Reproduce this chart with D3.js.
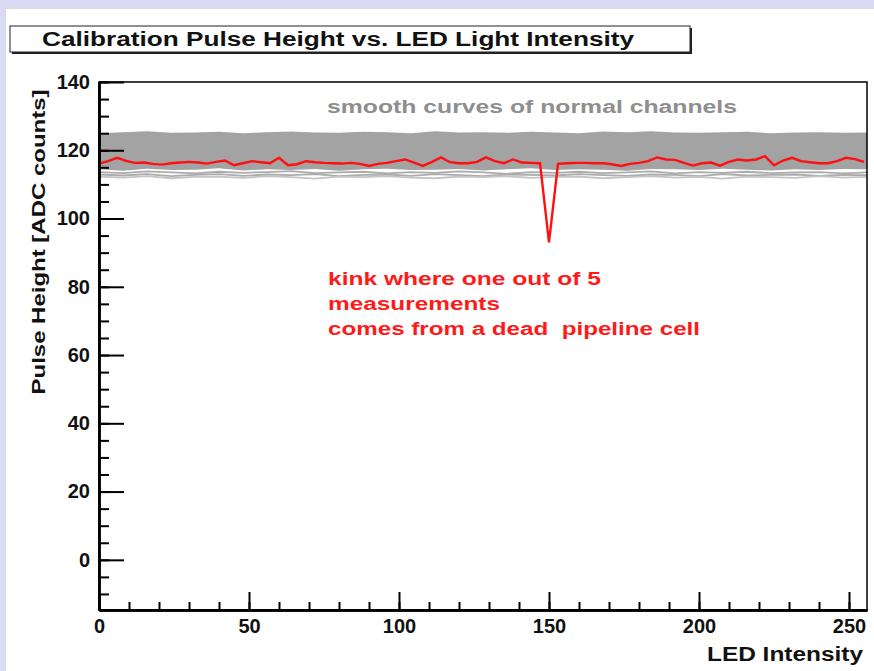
<!DOCTYPE html>
<html>
<head>
<meta charset="utf-8">
<script src="https://cdn.jsdelivr.net/npm/d3@7"></script>
<style>
  html, body { margin: 0; padding: 0; background: #dcdcf4; }
  svg { display: block; }
  text { font-family: "Liberation Sans", Arial, Helvetica, sans-serif; font-weight: bold; }
</style>
</head>
<body>
<div id="chart"></div>
<script>
// LED intensity steps of the calibration scan
var ledSteps = [0,3,6,9,12,15,18,21,24,27,30,33,36,39,42,45,48,51,54,57,60,63,66,69,72,75,78,81,84,87,
  90,93,96,99,102,105,108,111,114,117,120,123,126,129,132,135,138,141,144,147,150,153,156,159,162,165,
  168,171,174,177,180,183,186,189,192,195,198,201,204,207,210,213,216,219,222,225,228,231,234,237,240,
  243,246,249,252,255];

// the channel with the dead pipeline cell (red)
var badChannel = [116.1,116.8,117.8,116.9,116.3,116.4,116.0,115.8,116.2,116.4,116.6,116.4,116.1,116.6,
  117.0,115.6,116.2,116.8,116.5,116.2,117.8,115.6,115.9,116.8,116.5,116.3,116.2,116.1,116.3,116.0,
  115.4,116.0,116.3,116.8,117.3,116.4,115.4,116.6,117.9,116.5,116.2,116.2,116.6,117.9,116.8,116.2,
  117.3,116.4,116.3,116.2,93.0,116.0,116.2,116.3,116.3,116.2,116.2,115.9,115.4,116.0,116.3,116.8,
  117.9,117.3,117.2,116.3,115.5,116.2,116.4,115.5,116.6,117.3,117.0,117.3,118.3,115.6,117.0,117.8,
  116.8,116.5,116.2,116.2,116.8,117.8,117.4,116.6];

// normal channels: the dense band and a few lower curves
var graySteps = [0,8,16,24,32,40,48,56,64,72,80,88,96,104,112,120,128,136,144,152,160,168,176,184,
  192,200,208,216,224,232,240,248,256];
var bandHigh = [125.0,125.3,125.6,125.1,125.2,125.4,125.0,125.3,125.5,125.2,125.1,125.4,125.3,125.0,
  125.6,125.2,125.3,125.1,125.4,125.2,125.0,125.5,125.3,125.6,125.2,125.1,125.3,125.4,125.0,125.2,
  125.3,125.1,125.2];
var bandLow = [114.4,114.0,114.6,114.2,114.3,114.7,114.1,114.4,114.2,114.5,114.0,114.4,114.6,114.2,
  114.3,114.5,114.1,114.4,114.7,114.2,114.4,114.3,114.0,114.5,114.4,114.2,114.6,114.3,114.1,114.4,
  114.2,114.5,114.4];
var lowCurve1 = [113.6,113.3,113.8,113.5,113.2,113.7,113.4,113.6,113.9,113.3,113.5,113.7,113.2,113.6,
  113.4,113.8,113.5,113.1,113.6,113.4,113.7,113.3,113.5,113.8,113.2,113.6,113.4,113.7,113.3,113.5,
  113.6,113.2,113.5];
var lowCurve2 = [112.9,112.6,113.0,112.4,112.8,113.0,112.5,112.9,112.7,113.0,112.4,112.8,112.9,112.5,
  113.0,112.7,112.4,112.9,112.8,112.6,113.0,112.7,112.5,112.9,112.8,112.4,113.0,112.6,112.8,112.9,
  112.5,112.8,112.7];
var lowCurve3 = [112.3,112.0,112.4,111.8,112.2,112.3,111.9,112.4,112.1,111.7,112.3,112.1,112.4,112.0,
  111.8,112.3,112.1,112.4,111.9,112.2,112.3,111.8,112.1,112.4,112.0,112.2,111.7,112.3,112.1,111.9,
  112.4,112.0,112.2];

var xTicks = [0, 50, 100, 150, 200, 250];
var yTicks = [0, 20, 40, 60, 80, 100, 120, 140];

var W = 874, H = 671;
var svg = d3.select('#chart').append('svg').attr('width', W).attr('height', H);

// slide background + white canvas
svg.append('rect').attr('x', 0).attr('y', 0).attr('width', W).attr('height', H).attr('fill', '#dadaf3');
svg.append('rect').attr('x', 6).attr('y', 9).attr('width', W - 6).attr('height', H - 9).attr('fill', '#ffffff');

var x = d3.scaleLinear().domain([0, 256]).range([99, 867]);
var y = d3.scaleLinear().domain([-14.7, 140]).range([610, 82]);

svg.append('clipPath').attr('id', 'plotclip').append('rect')
  .attr('x', 99).attr('y', 82).attr('width', 768).attr('height', 528);

var plot = svg.append('g').attr('clip-path', 'url(#plotclip)');

var band = d3.area()
  .x(function(d, i) { return x(graySteps[i]); })
  .y0(function(d, i) { return y(bandLow[i]); })
  .y1(function(d, i) { return y(bandHigh[i]); });
plot.append('path').datum(bandHigh).attr('d', band).attr('fill', '#a3a3a3');

var grayLine = d3.line().x(function(d, i) { return x(graySteps[i]); }).y(function(d) { return y(d); });
[lowCurve1, lowCurve2, lowCurve3].forEach(function(c, k) {
  plot.append('path').datum(c).attr('d', grayLine)
    .attr('fill', 'none').attr('stroke', k == 2 ? '#c4c4c4' : '#acacac').attr('stroke-width', 1.8);
});

var redLine = d3.line().x(function(d, i) { return x(ledSteps[i]); }).y(function(d) { return y(d); });
plot.append('path').datum(badChannel).attr('d', redLine)
  .attr('fill', 'none').attr('stroke', '#ff1010').attr('stroke-width', 2.4);

// frame
svg.append('rect').attr('x', 99).attr('y', 82).attr('width', 768).attr('height', 528)
  .attr('fill', 'none').attr('stroke', '#000').attr('stroke-width', 1.5);

// axes, ticks drawn inward like ROOT
var yMinor = d3.axisLeft(y).tickValues(d3.range(-10, 141, 5)).tickSizeInner(-10).tickSizeOuter(0).tickFormat('');
var yMajor = d3.axisLeft(y).tickValues(yTicks).tickSizeInner(-25).tickSizeOuter(0).tickPadding(9);
var xMinor = d3.axisBottom(x).tickValues(d3.range(10, 256, 10)).tickSizeInner(-8).tickSizeOuter(0).tickFormat('');
var xMajor = d3.axisBottom(x).tickValues(xTicks).tickSizeInner(-18).tickSizeOuter(0).tickPadding(9);

function styleAxis(g) {
  g.select('.domain').attr('stroke', '#000').attr('stroke-width', 2.5);
  g.selectAll('.tick line').attr('stroke', '#000').attr('stroke-width', 2);
  g.selectAll('.tick text').attr('fill', '#111').style('font-size', '20px').style('font-weight', 'bold')
    .style('font-family', '"Liberation Sans", Arial, sans-serif');
}
svg.append('g').attr('transform', 'translate(99,0)').call(yMinor).call(styleAxis);
svg.append('g').attr('transform', 'translate(99,0)').call(yMajor).call(styleAxis);
svg.append('g').attr('transform', 'translate(0,610)').call(xMinor).call(styleAxis);
svg.append('g').attr('transform', 'translate(0,610)').call(xMajor).call(styleAxis);

// axis titles
svg.append('text').attr('transform', 'translate(45,242) rotate(-90)').attr('text-anchor', 'middle')
  .attr('textLength', 305).attr('lengthAdjust', 'spacingAndGlyphs')
  .style('font-size', '19px').attr('fill', '#111').text('Pulse Height [ADC counts]');
svg.append('text').attr('x', 863).attr('y', 661).attr('text-anchor', 'end')
  .attr('textLength', 156).attr('lengthAdjust', 'spacingAndGlyphs')
  .style('font-size', '20px').attr('fill', '#111').text('LED Intensity');

// title box
svg.append('rect').attr('x', 12).attr('y', 28).attr('width', 680).attr('height', 26).attr('fill', '#222');
svg.append('rect').attr('x', 10).attr('y', 26).attr('width', 680).attr('height', 26)
  .attr('fill', '#fff').attr('stroke', '#222').attr('stroke-width', 1);
svg.append('text').attr('x', 42).attr('y', 46).attr('textLength', 592).attr('lengthAdjust', 'spacingAndGlyphs')
  .style('font-size', '20px').attr('fill', '#111').text('Calibration Pulse Height vs. LED Light Intensity');

// annotations
svg.append('text').attr('x', 327).attr('y', 113).attr('textLength', 410).attr('lengthAdjust', 'spacingAndGlyphs')
  .style('font-size', '18px').attr('fill', '#8e8e8e').text('smooth curves of normal channels');

var notes = ['kink where one out of 5', 'measurements', 'comes from a dead  pipeline cell'];
var noteLen = [273, 172, 372];
svg.selectAll('.note').data(notes).enter().append('text').attr('class', 'note')
  .attr('x', 328).attr('y', function(d, i) { return 285 + i * 25; })
  .attr('textLength', function(d, i) { return noteLen[i]; }).attr('lengthAdjust', 'spacingAndGlyphs')
  .style('font-size', '18px').attr('fill', '#ff1a1a').style('white-space', 'pre').text(function(d) { return d; });
</script>
</body>
</html>
